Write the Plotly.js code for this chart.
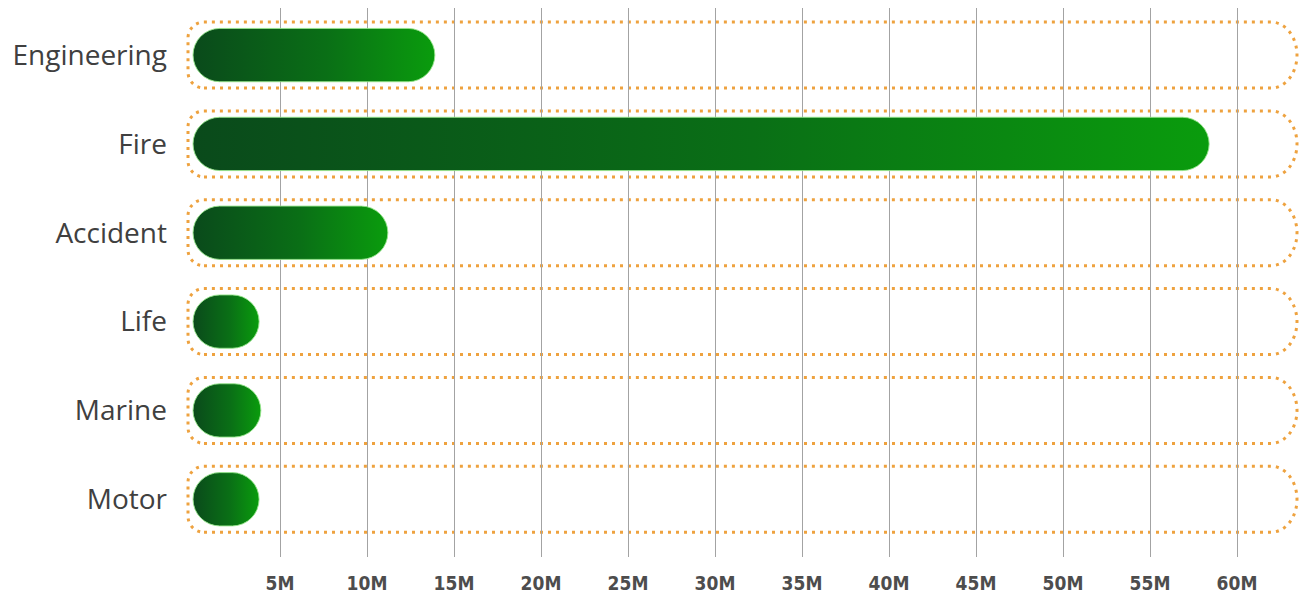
<!DOCTYPE html>
<html>
<head>
<meta charset="utf-8">
<script src="https://cdn.plot.ly/plotly-3.0.1.min.js"></script>
<style>
  html, body { margin: 0; padding: 0; background: #ffffff; }
  #chart { width: 1308px; height: 601px; }
</style>
</head>
<body>
<div id="chart"></div>
<script>
// Insurance lines and their totals
const categories = ['Engineering', 'Fire', 'Accident', 'Life', 'Marine', 'Motor'];
const amounts = [13900000, 58400000, 11200000, 3800000, 3900000, 3800000];

// Axis ticks
const tickValues = [5e6, 10e6, 15e6, 20e6, 25e6, 30e6, 35e6, 40e6, 45e6, 50e6, 55e6, 60e6];
const tickLabels = ['5M', '10M', '15M', '20M', '25M', '30M', '35M', '40M', '45M', '50M', '55M', '60M'];

// Page geometry
const W = 1308, H = 601;
const M = { l: 170, r: 6, t: 8, b: 44 };
const plotW = W - M.l - M.r;
const pxPerUnit = 17.4 / 1e6;       // horizontal scale
const zeroOffset = 23;              // px between plot edge and the bar base
const xMin = -zeroOffset / pxPerUnit;
const xMax = xMin + plotW / pxPerUnit;

// Dotted rounded track drawn around every row (pixel offsets from the bar base)
function trackPath() {
  const k = 0.5523;
  const L = -5, R = 1104, h = 33, rl = 16, rxr = 26;
  return [
    'M', L + rl, -h,
    'L', R - rxr, -h,
    'C', R - rxr + k * rxr, -h, R, -k * h, R, 0,
    'C', R, k * h, R - rxr + k * rxr, h, R - rxr, h,
    'L', L + rl, h,
    'C', L + rl - k * rl, h, L, h - rl + k * rl, L, h - rl,
    'L', L, -h + rl,
    'C', L, -h + rl - k * rl, L + rl - k * rl, -h, L + rl, -h,
    'Z'
  ].join(' ');
}

const shapes = categories.map((c, i) => ({
  type: 'path',
  layer: 'below',
  xref: 'x', yref: 'y',
  xsizemode: 'pixel', ysizemode: 'pixel',
  xanchor: 0, yanchor: i,
  path: trackPath(),
  line: { color: '#eea23f', width: 3, dash: '3px,5px' },
  fillcolor: 'rgba(0,0,0,0)'
}));

const trace = {
  type: 'bar',
  orientation: 'h',
  x: amounts,
  y: categories,
  width: 0.6,
  marker: { color: '#0a7a14', line: { color: 'rgba(150,228,140,0.9)', width: 1 } },
  hoverinfo: 'skip'
};

const layout = {
  width: W, height: H,
  margin: M,
  paper_bgcolor: '#ffffff',
  plot_bgcolor: 'rgba(0,0,0,0)',
  showlegend: false,
  bargap: 0.4,
  xaxis: {
    range: [xMin, xMax],
    tickmode: 'array',
    tickvals: tickValues,
    ticktext: tickLabels,
    showgrid: true,
    gridcolor: '#a3a3a3',
    gridwidth: 1,
    zeroline: false,
    showline: false,
    ticks: '',
    ticklabelstandoff: 13,
    tickfont: { family: "'Liberation Sans Narrow', 'DejaVu Sans Condensed', sans-serif", size: 19, color: '#4d4d4d', weight: 700 },
    fixedrange: true
  },
  yaxis: {
    type: 'category',
    categoryorder: 'array',
    categoryarray: categories,
    range: [5.65, -0.53],
    showgrid: false,
    zeroline: false,
    showline: false,
    ticks: '',
    ticklabelstandoff: 2,
    tickfont: { family: "'Open Sans', sans-serif", size: 28, color: '#404040' },
    fixedrange: true
  },
  shapes: shapes
};

// Full stadium ends and a left-to-right green gradient on each bar
function styleBars(gd) {
  const svg = gd.querySelector('.main-svg');
  if (!svg) return;
  const defs = svg.querySelector('defs');
  if (defs && !defs.querySelector('#barGrad')) {
    const ns = 'http://www.w3.org/2000/svg';
    const g = document.createElementNS(ns, 'linearGradient');
    g.setAttribute('id', 'barGrad');
    g.setAttribute('x1', '0'); g.setAttribute('y1', '0');
    g.setAttribute('x2', '1'); g.setAttribute('y2', '0');
    [['0', '#0a4a1b'], ['0.55', '#0a6f16'], ['1', '#0a9c0d']].forEach(([o, c]) => {
      const s = document.createElementNS(ns, 'stop');
      s.setAttribute('offset', o);
      s.setAttribute('stop-color', c);
      g.appendChild(s);
    });
    defs.appendChild(g);
  }
  gd.querySelectorAll('.barlayer .point path').forEach(p => {
    const b = p.getBBox();
    if (!b.width || !b.height) return;
    const rx = Math.min(b.height / 2, b.width / 2);
    const ry = b.height / 2;
    const x0 = b.x, x1 = b.x + b.width, y0 = b.y, y1 = b.y + b.height;
    const d = 'M' + (x0 + rx) + ',' + y0 +
      'H' + (x1 - rx) +
      'A' + rx + ',' + ry + ' 0 0 1 ' + (x1 - rx) + ',' + y1 +
      'H' + (x0 + rx) +
      'A' + rx + ',' + ry + ' 0 0 1 ' + (x0 + rx) + ',' + y0 + 'Z';
    p.setAttribute('d', d);
    p.style.fill = 'url(#barGrad)';
  });
}

const gd = document.getElementById('chart');
Plotly.newPlot(gd, [trace], layout, { displayModeBar: false, staticPlot: true }).then(() => {
  styleBars(gd);
  gd.on && gd.on('plotly_afterplot', () => styleBars(gd));
});
</script>
</body>
</html>
